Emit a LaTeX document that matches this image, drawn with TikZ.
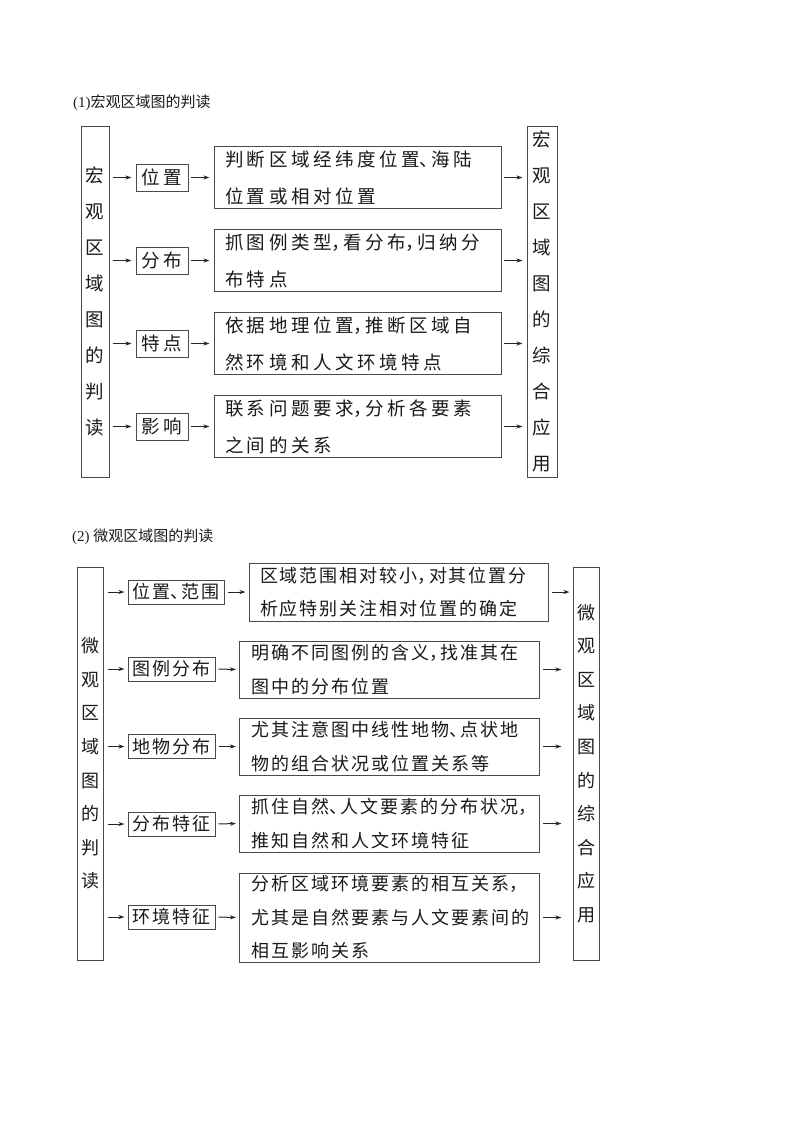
\documentclass[tikz,border=0pt]{standalone}
\usepackage{fontspec}
\setmainfont{Liberation Serif}
\newfontfamily\cjk{Noto Sans CJK SC}
\newfontfamily\cjkA[LetterSpace=19]{Noto Sans CJK SC}
\newfontfamily\cjkB[LetterSpace=11]{Noto Sans CJK SC}
\newcommand\pc[1]{\makebox[0.62em][l]{#1}}
\usetikzlibrary{arrows.meta}
\definecolor{linec}{HTML}{4A4A4A}
\definecolor{textc}{HTML}{1A1A1A}
\tikzset{
  boxline/.style={draw=linec, line width=1pt, rectangle, inner sep=0pt, text=textc},
  vbox/.style={boxline, align=center, font=\cjk\fontsize{18.5}{36}\selectfont},
  vboxB/.style={boxline, align=center, font=\cjk\fontsize{18}{33.6}\selectfont},
  sboxA/.style={boxline, minimum width=52pt, minimum height=27pt, font=\cjkA\fontsize{18.5}{18.5}\selectfont},
  sboxB/.style={boxline, minimum width=87pt, minimum height=24pt, font=\cjkB\fontsize{18}{18}\selectfont},
  lboxA/.style={boxline, align=left, text width=265pt, inner xsep=11pt, inner ysep=0pt, minimum height=62pt, font=\cjkA\fontsize{18.5}{37}\selectfont},
  lboxB/.style={boxline, align=left, text width=276pt, inner xsep=12pt, inner ysep=0pt, minimum height=57pt, font=\cjkB\fontsize{18}{33.5}\selectfont},
  arr/.style={draw=black!85, line width=1pt, -{Stealth[length=6pt,width=4pt]}},
  ttl/.style={anchor=west, inner sep=0pt, text=textc, font=\fontsize{15}{15}\selectfont}
}
\begin{document}
\begin{tikzpicture}[x=1pt,y=-1pt]
\useasboundingbox (0,0) rectangle (800,1132);
\fill[white] (0,0) rectangle (800,1132);

% ---------- Section 1 ----------
\node[ttl] (t1) at (73,103) {(1){\cjk 宏观区域图的判读}};

\node[vbox, minimum width=28pt, minimum height=351pt] (L1) at (95,301.5) {宏\\观\\区\\域\\图\\的\\判\\读};
\node[vbox, minimum width=30pt, minimum height=351pt] (R1) at (542,301.5) {宏\\观\\区\\域\\图\\的\\综\\合\\应\\用};

\node[sboxA] (a1) at (162,177.5) {位置};
\node[sboxA] (a2) at (162,260.5) {分布};
\node[sboxA] (a3) at (162,343.5) {特点};
\node[sboxA] (a4) at (162,426.5) {影响};

\node[lboxA] (b1) at (357.5,177.5) {判断区域经纬度位置\pc{、}海陆\\位置或相对位置};
\node[lboxA] (b2) at (357.5,260.5) {抓图例类型\pc{，}看分布\pc{，}归纳分\\布特点};
\node[lboxA] (b3) at (357.5,343.5) {依据地理位置\pc{，}推断区域自\\然环境和人文环境特点};
\node[lboxA] (b4) at (357.5,426.5) {联系问题要求\pc{，}分析各要素\\之间的关系};

\foreach \i in {1,2,3,4}{
  \draw[arr, shorten <=3pt, shorten >=4pt] (L1.east |- a\i.west) -- (a\i.west);
  \draw[arr, shorten <=2pt, shorten >=4pt] (a\i.east) -- (b\i.west);
  \draw[arr, shorten <=2pt, shorten >=4pt] (b\i.east) -- (b\i.east -| R1.west);
}

% ---------- Section 2 ----------
\node[ttl] (t2) at (72,537) {(2) {\cjk 微观区域图的判读}};

\node[vboxB, minimum width=26pt, minimum height=393pt] (L2) at (90,763.5) {微\\观\\区\\域\\图\\的\\判\\读};
\node[vboxB, minimum width=26pt, minimum height=393pt] (R2) at (586,763.5) {微\\观\\区\\域\\图\\的\\综\\合\\应\\用};

\node[sboxB, minimum width=96pt] (c1) at (176,592) {位置\pc{、}范围};
\node[sboxB] (c2) at (171.5,669) {图例分布};
\node[sboxB] (c3) at (171.5,746.5) {地物分布};
\node[sboxB] (c4) at (171.5,824) {分布特征};
\node[sboxB] (c5) at (171.5,917) {环境特征};

\node[lboxB, text width=277pt, inner xsep=11pt, minimum height=58pt] (d1) at (398.5,592) {区域范围相对较小\pc{，}对其位置分\\析应特别关注相对位置的确定};
\node[lboxB] (d2) at (389.5,669.5) {明确不同图例的含义\pc{，}找准其在\\图中的分布位置};
\node[lboxB] (d3) at (389.5,746.5) {尤其注意图中线性地物\pc{、}点状地\\物的组合状况或位置关系等};
\node[lboxB] (d4) at (389.5,823.5) {抓住自然\pc{、}人文要素的分布状况\pc{，}\\推知自然和人文环境特征};
\node[lboxB, minimum height=89pt] (d5) at (389.5,917.5) {分析区域环境要素的相互关系\pc{，}\\尤其是自然要素与人文要素间的\\相互影响关系};

\foreach \i in {1,2,3,4,5}{
  \draw[arr, shorten <=4pt, shorten >=3pt] (L2.east |- c\i.west) -- (c\i.west);
  \draw[arr, shorten <=3pt, shorten >=3pt] (c\i.east) -- (d\i.west);
}
\draw[arr, shorten <=3pt, shorten >=3pt] (d1.east) -- (d1.east -| R2.west);
\foreach \i in {2,3,4,5}{
  \draw[arr, shorten <=3pt, shorten >=11pt] (d\i.east) -- (d\i.east -| R2.west);
}
\end{tikzpicture}
\end{document}
